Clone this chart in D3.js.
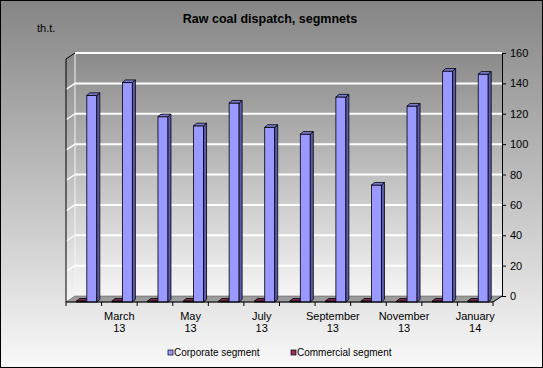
<!DOCTYPE html>
<html><head><meta charset="utf-8">
<script src="https://cdn.jsdelivr.net/npm/d3@7/dist/d3.min.js"></script>
<style>
body{margin:0;background:#fff;}
svg{display:block;font-family:"Liberation Sans",Arial,sans-serif;}
</style></head>
<body><svg id="c" width="543" height="368"></svg>
<script>
const months = ["February","March","April","May","June","July","August","September","October","November","December","January"];
const years = ["13","13","13","13","13","13","13","13","13","13","13","14"];
const corporate = [136,144.5,122,116,131,115,110.5,135,77,129,152,150];
const commercial = [0.6,0.6,0.6,0.6,0.6,0.6,0.6,0.6,0.6,0.6,0.6,0.6];
const yTicks = [0,20,40,60,80,100,120,140,160];
const seriesNames = ["Corporate segment","Commercial segment"];
const seriesColors = {front:["#9999ff","#993366"], side:["#5b5bb0","#5a1e3c"], top:["#7b7bd6","#7a2950"]};

const svg = d3.select("#c");
const W = 543, H = 368;
const DX = -9, DY = 6;           // back-to-front offset
const BDX = 3, BDY = 2.6;        // bar depth

const defs = svg.append("defs");
const g1 = defs.append("linearGradient").attr("id","bg").attr("x1",0).attr("y1",0).attr("x2",0).attr("y2",1);
g1.append("stop").attr("offset","0%").attr("stop-color","#858585");
g1.append("stop").attr("offset","100%").attr("stop-color","#f9f9f9");
const g2 = defs.append("linearGradient").attr("id","wall").attr("x1",0).attr("y1",0).attr("x2",0).attr("y2",1);
g2.append("stop").attr("offset","0%").attr("stop-color","#8a8a8a");
g2.append("stop").attr("offset","100%").attr("stop-color","#f6f6f6");

svg.append("rect").attr("x",0.5).attr("y",0.5).attr("width",W-1).attr("height",H-1)
  .attr("fill","url(#bg)").attr("stroke","#000").attr("stroke-width",1);

const yB = d3.scaleLinear().domain([0,160]).range([296,53]);
const xB = d3.scaleBand().domain(d3.range(months.length)).range([75,502]).padding(0);
const yF = v => yB(v) + DY;
const xF = i => xB(i) + DX;
const bw = xB.bandwidth();

// back wall
svg.append("rect").attr("x",xB.range()[0]).attr("y",yB(160)).attr("width",xB.range()[1]-xB.range()[0])
  .attr("height",yB(0)-yB(160)).attr("fill","url(#wall)");
// left side wall
svg.append("polygon")
  .attr("points",[[75,yB(160)],[75,yB(0)],[75+DX,yF(0)],[75+DX,yF(160)]].map(p=>p.join(",")).join(" "))
  .attr("fill","url(#wall)");

// gridlines
svg.append("g").selectAll("line").data(yTicks).join("line")
  .attr("x1",75).attr("x2",502).attr("y1",d=>yB(d)).attr("y2",d=>yB(d))
  .attr("stroke","#fff").attr("stroke-width",2);
svg.append("g").selectAll("line").data(yTicks.filter(d=>d<160)).join("line")
  .attr("x1",75+DX).attr("x2",75).attr("y1",d=>yF(d)).attr("y2",d=>yB(d))
  .attr("stroke","#fff").attr("stroke-width",1.5);
svg.append("line").attr("x1",75).attr("x2",75).attr("y1",yB(160)).attr("y2",yB(0))
  .attr("stroke","#f4f4f4").attr("stroke-width",1);

// floor
svg.append("polygon")
  .attr("points",[[75,yB(0)],[502,yB(0)],[502+DX,yF(0)],[75+DX,yF(0)]].map(p=>p.join(",")).join(" "))
  .attr("fill","#9c9c9c").attr("stroke","#555").attr("stroke-width",0.6);

// bars
function drawBar(g, x0, v, s){
  const w = 10;
  const yt = yF(v), yb = yF(0);
  g.append("rect").attr("x",x0).attr("y",yt).attr("width",w).attr("height",Math.max(0,yb-yt))
    .attr("fill",seriesColors.front[s]).attr("stroke","#000").attr("stroke-width",0.8);
  g.append("polygon").attr("points",[[x0+w,yt],[x0+w+BDX,yt-BDY],[x0+w+BDX,yb-BDY],[x0+w,yb]].map(p=>p.join(",")).join(" "))
    .attr("fill",seriesColors.side[s]).attr("stroke","#000").attr("stroke-width",0.8);
  g.append("polygon").attr("points",[[x0,yt],[x0+w,yt],[x0+w+BDX,yt-BDY],[x0+BDX,yt-BDY]].map(p=>p.join(",")).join(" "))
    .attr("fill",seriesColors.top[s]).attr("stroke","#000").attr("stroke-width",0.8);
}
const bars = svg.append("g");
months.forEach((m,i)=>{
  drawBar(bars, xF(i)+10.5, commercial[i], 1);
  drawBar(bars, xF(i)+20.8, corporate[i], 0);
});

// front-left axis
svg.append("line").attr("x1",75+DX).attr("x2",75+DX).attr("y1",yF(160)).attr("y2",yF(0)).attr("stroke","#000").attr("stroke-width",1);
svg.append("line").attr("x1",75+DX).attr("x2",75).attr("y1",yF(160)).attr("y2",yB(160)).attr("stroke","#000").attr("stroke-width",1);
// floor front edge
svg.append("line").attr("x1",75+DX).attr("x2",502+DX).attr("y1",yF(0)).attr("y2",yF(0)).attr("stroke","#000").attr("stroke-width",1);
svg.append("line").attr("x1",502+DX).attr("x2",502).attr("y1",yF(0)).attr("y2",yB(0)).attr("stroke","#000").attr("stroke-width",1);

// bottom ticks
const bounds = d3.range(months.length+1).map(i => 75 + DX + i*bw);
svg.append("g").selectAll("line").data(bounds).join("line")
  .attr("x1",d=>d).attr("x2",d=>d).attr("y1",yF(0)).attr("y2",yF(0)+4).attr("stroke","#000");

// category labels
const lab = svg.append("g").attr("font-size",11).attr("fill","#000").attr("text-anchor","middle");
months.forEach((m,i)=>{
  if(i%2===1){
    const t = lab.append("text").attr("x",xF(i)+bw/2).attr("y",320);
    t.append("tspan").attr("x",xF(i)+bw/2).attr("dy",0).text(m);
    t.append("tspan").attr("x",xF(i)+bw/2).attr("dy",12).text(years[i]);
  }
});

// right axis
const ax = svg.append("g").attr("transform","translate(502,0)")
  .call(d3.axisRight(yB).tickValues(yTicks).tickSize(4).tickSizeOuter(0).tickPadding(4));
ax.select(".domain").attr("stroke","#000");
ax.selectAll(".tick line").attr("stroke","#000");
ax.selectAll("text").attr("font-size",11).attr("font-family","Liberation Sans, Arial, sans-serif").attr("fill","#000");

// title & unit
svg.append("text").attr("x",270).attr("y",23).attr("text-anchor","middle").attr("font-size",12.5)
  .attr("font-weight","bold").text("Raw coal dispatch, segmnets");
svg.append("text").attr("x",37).attr("y",32).attr("font-size",11).text("th.t.");

// legend
const lg = svg.append("g").attr("font-size",10);
const legX = [168, 291];
seriesNames.forEach((n,s)=>{
  lg.append("rect").attr("x",legX[s]).attr("y",350).attr("width",5).attr("height",5)
    .attr("fill",seriesColors.front[s]).attr("stroke","#000").attr("stroke-width",0.7);
  lg.append("text").attr("x",legX[s]+6).attr("y",356).text(n);
});
</script></body></html>
